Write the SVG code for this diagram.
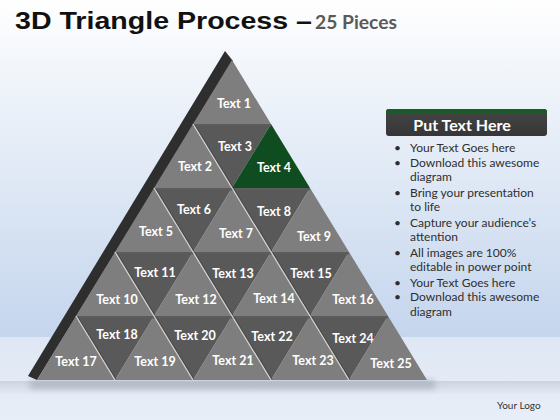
<svg xmlns="http://www.w3.org/2000/svg" width="560" height="420" viewBox="0 0 560 420">
<defs>
<linearGradient id="sky" x1="0" y1="0" x2="0" y2="1">
<stop offset="0" stop-color="#ffffff"/>
<stop offset="0.15" stop-color="#f5f8fc"/>
<stop offset="1" stop-color="#c4d5ed"/>
</linearGradient>
<linearGradient id="floor" x1="0" y1="0" x2="0" y2="1">
<stop offset="0" stop-color="#dfe7f4"/>
<stop offset="1" stop-color="#e8eef8"/>
</linearGradient>
<linearGradient id="shadow" x1="0" y1="0" x2="0" y2="1">
<stop offset="0" stop-color="#9aa3b0" stop-opacity="0.55"/>
<stop offset="1" stop-color="#9aa3b0" stop-opacity="0"/>
</linearGradient>
<linearGradient id="hdr" x1="0" y1="0" x2="0" y2="1">
<stop offset="0" stop-color="#454545"/>
<stop offset="1" stop-color="#363636"/>
</linearGradient>
<filter id="blur" x="-10%" y="-50%" width="120%" height="200%"><feGaussianBlur stdDeviation="3"/></filter>
</defs>
<style>
.up{fill:#7e7e7e}
.dn{fill:#595959}
.gr{fill:#0f4d20}
.lbl{font-family:Lato,"Open Sans","DejaVu Sans",sans-serif;font-weight:bold;font-size:12.5px;fill:#ffffff;text-anchor:middle}
.hl{stroke:#d2d2d2;stroke-width:1.3;fill:none}
.sh{stroke:#474747;stroke-width:1.2;fill:none}
.band{stroke:#5c5c5c;stroke-width:2.5;fill:none}
.bul{font-family:Lato,"Open Sans","DejaVu Sans",sans-serif;font-size:12px;fill:#2e2e2e}
</style>
<rect x="0" y="0" width="560" height="338" fill="url(#sky)"/>
<rect x="0" y="337" width="560" height="83" fill="url(#floor)"/>
<rect x="0" y="381" width="560" height="14" fill="url(#shadow)" opacity="0.6"/>
<rect x="30" y="380" width="405" height="9" fill="#8f98a6" opacity="0.5" filter="url(#blur)"/>
<g id="title">
<text x="15" y="29" font-family="'Liberation Sans',Arial,sans-serif" font-weight="bold" font-size="23" fill="#111111" textLength="297" lengthAdjust="spacingAndGlyphs">3D Triangle Process –</text>
<text x="315" y="29" font-family="Lato,'Open Sans',sans-serif" font-weight="bold" font-size="19" fill="#5a5a5a" textLength="82" lengthAdjust="spacingAndGlyphs">25 Pieces</text>
</g>
<g id="pyramid-side">
<polygon points="225,51 233,61 37,380 28,376" fill="#2e2e2e"/>
</g>
<g id="t1"><polygon class="up" points="232,60 193,124 271,124"/><text class="lbl" x="234" y="108">Text 1</text></g>
<g id="t2"><polygon class="up" points="193,124 154,188 232,188"/><text class="lbl" x="195" y="171">Text 2</text></g>
<g id="t3"><polygon class="dn" points="193,124 271,124 232,188"/><text class="lbl" x="235" y="151">Text 3</text></g>
<g id="t4"><polygon class="gr" points="271,124 232,188 310,188"/><text class="lbl" x="274" y="172">Text 4</text></g>
<g id="t5"><polygon class="up" points="154,188 115,252 193,252"/><text class="lbl" x="156" y="236">Text 5</text></g>
<g id="t6"><polygon class="dn" points="154,188 232,188 193,252"/><text class="lbl" x="194" y="214">Text 6</text></g>
<g id="t7"><polygon class="up" points="232,188 193,252 271,252"/><text class="lbl" x="236" y="238">Text 7</text></g>
<g id="t8"><polygon class="dn" points="232,188 310,188 271,252"/><text class="lbl" x="274" y="216">Text 8</text></g>
<g id="t9"><polygon class="up" points="310,188 271,252 349,252"/><text class="lbl" x="314" y="241">Text 9</text></g>
<g id="t10"><polygon class="up" points="115,252 76,316 154,316"/><text class="lbl" x="117" y="304">Text 10</text></g>
<g id="t11"><polygon class="dn" points="115,252 193,252 154,316"/><text class="lbl" x="155" y="277">Text 11</text></g>
<g id="t12"><polygon class="up" points="193,252 154,316 232,316"/><text class="lbl" x="196" y="304">Text 12</text></g>
<g id="t13"><polygon class="dn" points="193,252 271,252 232,316"/><text class="lbl" x="233" y="278">Text 13</text></g>
<g id="t14"><polygon class="up" points="271,252 232,316 310,316"/><text class="lbl" x="274" y="303">Text 14</text></g>
<g id="t15"><polygon class="dn" points="271,252 349,252 310,316"/><text class="lbl" x="311" y="278">Text 15</text></g>
<g id="t16"><polygon class="up" points="349,252 310,316 388,316"/><text class="lbl" x="353" y="304">Text 16</text></g>
<g id="t17"><polygon class="up" points="76,316 37,380 115,380"/><text class="lbl" x="76" y="366">Text 17</text></g>
<g id="t18"><polygon class="dn" points="76,316 154,316 115,380"/><text class="lbl" x="117" y="339">Text 18</text></g>
<g id="t19"><polygon class="up" points="154,316 115,380 193,380"/><text class="lbl" x="155" y="366">Text 19</text></g>
<g id="t20"><polygon class="dn" points="154,316 232,316 193,380"/><text class="lbl" x="195" y="340">Text 20</text></g>
<g id="t21"><polygon class="up" points="232,316 193,380 271,380"/><text class="lbl" x="233" y="365">Text 21</text></g>
<g id="t22"><polygon class="dn" points="232,316 310,316 271,380"/><text class="lbl" x="272" y="341">Text 22</text></g>
<g id="t23"><polygon class="up" points="310,316 271,380 349,380"/><text class="lbl" x="313" y="365">Text 23</text></g>
<g id="t24"><polygon class="dn" points="310,316 388,316 349,380"/><text class="lbl" x="353" y="343">Text 24</text></g>
<g id="t25"><polygon class="up" points="388,316 349,380 427,380"/><text class="lbl" x="391" y="368">Text 25</text></g>
<g id="connectors">
<path class="band" d="M193,125.2H271M154,189.2H310M115,253.2H349M76,317.2H388"/>
<path class="sh" d="M194.5,124.5L233,187.5M155.5,188.5L194,251.5M233.5,188.5L272,251.5M116.5,252.5L155,315.5M194.5,252.5L233,315.5M272.5,252.5L311,315.5M77.5,316.5L116,379.5M155.5,316.5L194,379.5M233.5,316.5L272,379.5M311.5,316.5L350,379.5"/>
<path class="hl" d="M193,124L232,188M154,188L193,252M232,188L271,252M115,252L154,316M193,252L232,316M271,252L310,316M76,316L115,380M154,316L193,380M232,316L271,380M310,316L349,380"/>
</g>
<g id="panel">
<rect x="386" y="109" width="161" height="27" rx="3" fill="url(#hdr)"/>
<path d="M389,109H544a3,3 0 0 1 3,3V113H386V112a3,3 0 0 1 3,-3z" fill="#1a5a28"/>
<text x="462" y="131" font-family="Lato,'Open Sans',sans-serif" font-weight="bold" font-size="16" fill="#ffffff" text-anchor="middle">Put Text Here</text>
<g class="bul">
<text x="394" y="152">•</text><text x="410" y="152">Your Text Goes here</text>
<text x="394" y="167">•</text><text x="410" y="167">Download this awesome</text>
<text x="410" y="181">diagram</text>
<text x="394" y="197">•</text><text x="410" y="197">Bring your presentation</text>
<text x="410" y="211">to life</text>
<text x="394" y="227">•</text><text x="410" y="227">Capture your audience’s</text>
<text x="410" y="241">attention</text>
<text x="394" y="257">•</text><text x="410" y="257">All images are 100%</text>
<text x="410" y="271">editable in power point</text>
<text x="394" y="287">•</text><text x="410" y="287">Your Text Goes here</text>
<text x="394" y="301">•</text><text x="410" y="301">Download this awesome</text>
<text x="410" y="316">diagram</text>
</g>
</g>
<text x="497" y="409" font-family="Lato,'Open Sans',sans-serif" font-size="10" fill="#333333">Your Logo</text>
</svg>
